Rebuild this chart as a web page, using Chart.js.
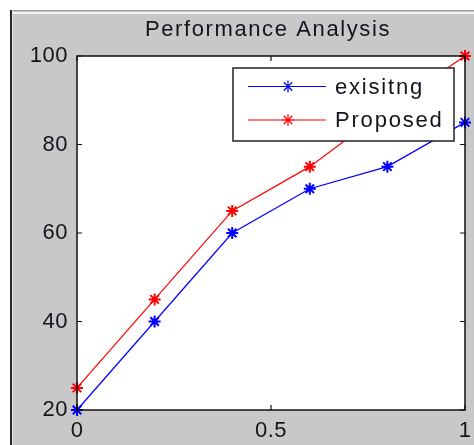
<!DOCTYPE html>
<html>
<head>
<meta charset="utf-8">
<script src="https://cdn.jsdelivr.net/npm/chart.js@4"></script>
<style>
html,body{margin:0;padding:0;background:#fff;width:474px;height:445px;overflow:hidden;}
#fig{position:absolute;left:10px;top:10px;width:464px;height:435px;background:#c8c8c8;
  border-left:2px solid #2a2a2a;box-sizing:border-box;}
#fig:before{content:"";position:absolute;left:0;top:0;right:0;height:1px;background:#9a9a9a;}
#fig:after{content:"";position:absolute;left:0;top:2px;right:0;height:2px;background:#f4f4f4;}
#lline{position:absolute;left:12px;top:10px;width:1px;height:435px;background:#e6e6e6;}
canvas{position:absolute;left:0;top:0;}
</style>
</head>
<body>
<div id="fig"></div>
<div id="lline"></div>
<canvas id="c" width="474" height="445"></canvas>
<script>
const xValues = [0, 0.2, 0.4, 0.6, 0.8, 1.0];
const existingValues = [20, 40, 60, 70, 75, 85];
const proposedValues = [25, 45, 65, 75, 88, 100];
const seriesLabels = ['exisitng', 'Proposed'];
const titleText = 'Performance Analysis';
const xTicks = [0, 0.5, 1];
const yTicks = [20, 40, 60, 80, 100];

const FONT = '22px "Liberation Sans", Arial, sans-serif';
const TEXT = '#14141e';

function noPad(s) { s.paddingLeft = 0; s.paddingRight = 0; s.paddingTop = 0; s.paddingBottom = 0; }

const frame = {
  id: 'frame',
  beforeDraw(chart) {
    chart.ctx.letterSpacing = '0.5px';
    const {ctx, chartArea: a} = chart;
    ctx.save();
    ctx.fillStyle = '#ffffff';
    ctx.fillRect(a.left, a.top, a.right - a.left, a.bottom - a.top);
    ctx.restore();
  },
  afterDatasetsDraw(chart) {
    const {ctx, chartArea: a, scales} = chart;
    ctx.save();
    ctx.strokeStyle = '#111';
    ctx.lineWidth = 1.5;
    ctx.strokeRect(a.left, a.top, a.right - a.left, a.bottom - a.top);
    ctx.lineWidth = 1.2;
    ctx.beginPath();
    xTicks.forEach(v => {
      const x = scales.x.getPixelForValue(v);
      ctx.moveTo(x, a.bottom); ctx.lineTo(x, a.bottom - 5);
      ctx.moveTo(x, a.top); ctx.lineTo(x, a.top + 5);
    });
    yTicks.forEach(v => {
      const y = scales.y.getPixelForValue(v);
      ctx.moveTo(a.left, y); ctx.lineTo(a.left + 5, y);
      ctx.moveTo(a.right, y); ctx.lineTo(a.right - 5, y);
    });
    ctx.stroke();

    ctx.letterSpacing = '1.6px';
    ctx.fillStyle = TEXT;
    ctx.font = FONT;
    ctx.textAlign = 'center';
    ctx.textBaseline = 'middle';
    ctx.fillText(titleText, 268, 30);

    const bx = 233, by = 68, bw = 221, bh = 73;
    ctx.fillStyle = '#fff';
    ctx.fillRect(bx, by, bw, bh);
    ctx.strokeStyle = '#222';
    ctx.lineWidth = 1.5;
    ctx.strokeRect(bx, by, bw, bh);
    ctx.letterSpacing = '1.8px';
    const rows = [86.5, 120];
    chart.data.datasets.forEach((ds, i) => {
      const y = rows[i];
      ctx.strokeStyle = ds.borderColor;
      ctx.lineWidth = 1.2;
      ctx.beginPath();
      ctx.moveTo(248, y); ctx.lineTo(326, y);
      ctx.stroke();
      Chart.helpers.drawPoint(ctx, {pointStyle: 'star', radius: 6, borderWidth: 2}, 288, y);
      ctx.fillStyle = TEXT;
      ctx.textAlign = 'left';
      ctx.textBaseline = 'middle';
      ctx.fillText(ds.label, 335, y + 1);
    });
    ctx.restore();
  }
};

new Chart(document.getElementById('c'), {
  type: 'line',
  data: {
    datasets: [
      {label: seriesLabels[0], data: xValues.map((x, i) => ({x, y: existingValues[i]})),
       borderColor: '#0000ff', backgroundColor: '#0000ff', pointBorderColor: '#0000ff',
       borderWidth: 1.2, pointStyle: 'star', pointRadius: 6, pointBorderWidth: 2, tension: 0},
      {label: seriesLabels[1], data: xValues.map((x, i) => ({x, y: proposedValues[i]})),
       borderColor: '#ff0000', backgroundColor: '#ff0000', pointBorderColor: '#ff0000',
       borderWidth: 1.2, pointStyle: 'star', pointRadius: 6, pointBorderWidth: 2, tension: 0}
    ]
  },
  options: {
    responsive: false,
    animation: false,
    clip: false,
    layout: {autoPadding: false, padding: {top: 56, right: 9, left: 0, bottom: 0}},
    plugins: {legend: {display: false}, title: {display: false}, tooltip: {enabled: false}},
    scales: {
      x: {
        type: 'linear', min: 0, max: 1,
        afterFit(s) { s.height = 35; noPad(s); },
        afterBuildTicks(s) { s.ticks = xTicks.map(v => ({value: v})); },
        grid: {display: false, drawTicks: false},
        border: {display: false},
        ticks: {color: TEXT, font: {family: '"Liberation Sans", Arial, sans-serif', size: 22}, padding: 8,
                maxRotation: 0, autoSkip: false, callback: v => String(v)}
      },
      y: {
        type: 'linear', min: 20, max: 100,
        afterFit(s) { s.width = 77; noPad(s); },
        afterBuildTicks(s) { s.ticks = yTicks.map(v => ({value: v})); },
        grid: {display: false, drawTicks: false},
        border: {display: false},
        ticks: {color: TEXT, font: {family: '"Liberation Sans", Arial, sans-serif', size: 22}, padding: 9,
                autoSkip: false, callback: v => String(v)}
      }
    }
  },
  plugins: [frame]
});
</script>
</body>
</html>
